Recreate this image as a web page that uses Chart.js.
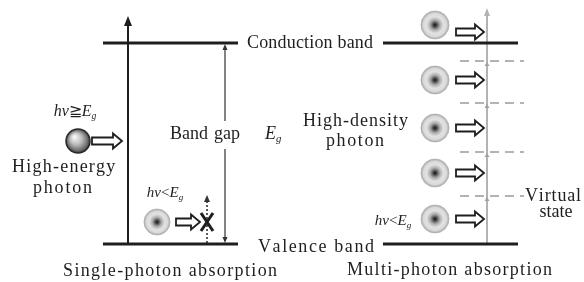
<!DOCTYPE html>
<html>
<head>
<meta charset="utf-8">
<script src="https://cdn.jsdelivr.net/npm/chart.js@4.4.0/dist/chart.umd.min.js"></script>
<style>
  html, body { margin: 0; padding: 0; background: #fff; }
  #wrap { width: 584px; height: 282px; position: relative; }
</style>
</head>
<body>
<div id="wrap"><canvas id="diagram"></canvas></div>
<script>
// energy levels (diagram units, y grows downwards)
const bandY = [43, 244];                 // conduction, valence
const singleBandX = [103, 238];
const multiBandX = [383, 518];
const virtualStateY = [61, 103, 152, 196];
const virtualStateX = [460, 524];
const multiPhotonY = [25, 80, 128, 173, 219];
const multiPhotonX = 435;
const bandGapX = 225;
const excitationX = 128;
const multiArrowX = 487;

// labels
const bandLabels = ["Conduction band", "Valence band"];
const panelTitles = ["Single-photon absorption", "Multi-photon absorption"];
const photonLabels = [["High-energy", "photon"], ["High-density", "photon"], ["Virtual", "state"]];

document.addEventListener("DOMContentLoaded", function () {
    const ctx = document.getElementById("diagram").getContext("2d");
    const SERIF = '"Liberation Serif", "Times New Roman", serif';
    const INK = "#1e1e1e";
    const FS = 18;

    function seg(x0, x1, y0, y1) {
        return [{ x: x0, y: y0 }, { x: x1, y: y1 }];
    }
    function lineSet(data, color, width, dash) {
        return {
            type: "scatter", data: data, showLine: true, borderColor: color,
            borderWidth: width, borderDash: dash || [], pointRadius: 0, spanGaps: false
        };
    }

    const datasets = [
        lineSet(seg(singleBandX[0], singleBandX[1], bandY[0], bandY[0]), INK, 3),
        lineSet(seg(singleBandX[0], singleBandX[1], bandY[1], bandY[1]), INK, 3),
        lineSet(seg(multiBandX[0], multiBandX[1], bandY[0], bandY[0]), INK, 3),
        lineSet(seg(multiBandX[0], multiBandX[1], bandY[1], bandY[1]), INK, 3),
        lineSet(seg(excitationX, excitationX, bandY[1], 24), INK, 2),
        lineSet([{ x: bandGapX, y: bandY[0] + 6 }, { x: bandGapX, y: 121 }, { x: bandGapX, y: null },
                 { x: bandGapX, y: 149 }, { x: bandGapX, y: bandY[1] - 5 }], "#333", 1.2),
        lineSet(seg(multiArrowX, multiArrowX, bandY[1], 14), "#b3b3b3", 2),
        lineSet(seg(207, 207, bandY[1] - 1, 201), "#333", 1.6, [2, 2])
    ];
    virtualStateY.forEach(function (vy) {
        datasets.push(lineSet(seg(virtualStateX[0], virtualStateX[1], vy, vy), "#b3b3b3", 2, [9, 6]));
    });

    // Photons, arrows and text are painted through the same scales
    const overlay = {
        id: "overlay",
        afterDatasetsDraw(chart) {
            const c = chart.ctx;
            const X = v => chart.scales.x.getPixelForValue(v);
            const Y = v => chart.scales.y.getPixelForValue(v);

            // dir 1 = tip points up, -1 = tip points down
            function head(x, y, dir, w, len, color) {
                c.save();
                c.fillStyle = color;
                c.beginPath();
                c.moveTo(X(x), Y(y));
                c.lineTo(X(x) - w / 2, Y(y) + dir * len);
                c.lineTo(X(x) + w / 2, Y(y) + dir * len);
                c.closePath();
                c.fill();
                c.restore();
            }

            function hollowArrow(x0, x1, y) {
                const a = X(x0), b = X(x1), m = Y(y);
                const hl = 9, sh = 3.5, hh = 7.5;
                c.save();
                c.beginPath();
                c.moveTo(a, m - sh);
                c.lineTo(b - hl, m - sh);
                c.lineTo(b - hl, m - hh);
                c.lineTo(b, m);
                c.lineTo(b - hl, m + hh);
                c.lineTo(b - hl, m + sh);
                c.lineTo(a, m + sh);
                c.closePath();
                c.fillStyle = "#fff";
                c.fill();
                c.lineWidth = 1.8;
                c.strokeStyle = INK;
                c.lineJoin = "miter";
                c.stroke();
                c.restore();
            }

            function softPhoton(x, y, r) {
                const cx = X(x), cy = Y(y);
                const g = c.createRadialGradient(cx, cy, 0, cx, cy, r);
                g.addColorStop(0, "#111");
                g.addColorStop(0.12, "#444");
                g.addColorStop(0.35, "#aaa");
                g.addColorStop(0.6, "#e2e2e2");
                g.addColorStop(0.82, "#dadada");
                g.addColorStop(1, "#a8a8a8");
                c.save();
                c.beginPath();
                c.arc(cx, cy, r, 0, Math.PI * 2);
                c.fillStyle = g;
                c.fill();
                c.lineWidth = 0.8;
                c.strokeStyle = "#b0b0b0";
                c.stroke();
                c.restore();
            }

            function sphere(x, y, r) {
                const cx = X(x), cy = Y(y);
                const g = c.createRadialGradient(cx - r * 0.3, cy - r * 0.35, 1, cx, cy, r);
                g.addColorStop(0, "#f4f4f4");
                g.addColorStop(0.45, "#bcbcbc");
                g.addColorStop(0.85, "#6a6a6a");
                g.addColorStop(1, "#333");
                c.save();
                c.beginPath();
                c.arc(cx, cy, r, 0, Math.PI * 2);
                c.fillStyle = g;
                c.fill();
                c.lineWidth = 1.5;
                c.strokeStyle = "#2a2a2a";
                c.stroke();
                c.restore();
            }

            // runs: [text, italic, sub]
            function runs(parts, x, y, align, size) {
                size = size || FS;
                c.save();
                c.fillStyle = INK;
                c.textBaseline = "middle";
                const fonts = parts.map(p => (p[1] ? "italic " : "") + (p[2] ? size * 0.6 : size) + "px " + SERIF);
                let total = 0;
                const widths = parts.map((p, i) => { c.font = fonts[i]; const w = c.measureText(p[0]).width; total += w; return w; });
                let cx = X(x);
                if (align === "center") cx -= total / 2;
                else if (align === "right") cx -= total;
                parts.forEach((p, i) => {
                    c.font = fonts[i];
                    c.textAlign = "left";
                    c.fillText(p[0], cx, Y(y) + (p[2] ? size * 0.3 : 0));
                    cx += widths[i];
                });
                c.restore();
            }

            // fit text between two x values by spreading letters
            function spread(str, x0, x1, y, size) {
                size = size || FS;
                c.save();
                c.fillStyle = INK;
                c.textBaseline = "middle";
                c.textAlign = "left";
                c.font = size + "px " + SERIF;
                const nat = c.measureText(str).width;
                const target = X(x1) - X(x0);
                const sp = Math.max(0, (target - nat) / Math.max(1, str.length - 1));
                let cx = X(x0);
                if (nat > target) cx -= (nat - target) / 2;
                for (const ch of str) {
                    c.fillText(ch, cx, Y(y));
                    cx += c.measureText(ch).width + sp;
                }
                c.restore();
            }

            // arrowheads
            head(excitationX, 16, 1, 8, 10, INK);
            head(bandGapX, bandY[0] + 1, 1, 5, 6, "#333");
            head(bandGapX, bandY[1] - 1, -1, 5, 6, "#333");
            head(multiArrowX, 8, 1, 6, 8, "#b3b3b3");
            virtualStateY.forEach(vy => head(multiArrowX, vy + 1, 1, 5, 4, "#a0a0a0"));
            head(207, 195, 1, 6, 7, "#333");

            // single-photon panel
            sphere(78, 141, 12);
            hollowArrow(92, 122, 141);
            softPhoton(157, 222, 13);
            hollowArrow(176, 200, 222);
            c.save();
            c.strokeStyle = INK;
            c.lineWidth = 3;
            c.lineCap = "butt";
            c.beginPath();
            c.moveTo(X(201), Y(213)); c.lineTo(X(213), Y(231));
            c.moveTo(X(213), Y(213)); c.lineTo(X(201), Y(231));
            c.stroke();
            c.restore();

            // multi-photon panel
            multiPhotonY.forEach(function (py, i) {
                softPhoton(multiPhotonX, py, 14);
                hollowArrow(456, 484, i === 0 ? 32 : py);
            });

            // text
            spread(bandLabels[0], 247, 373, bandY[0]);
            spread(bandLabels[1], 258, 372, bandY[1] + 3);
            spread(panelTitles[0], 63, 277, 271);
            spread(panelTitles[1], 347, 552, 270);
            runs([["Band", false]], 170, 134, "left");
            runs([["gap", false]], 214, 134, "left");
            runs([["E", true], ["g", true, true]], 265, 134, "left");
            spread(photonLabels[0][0], 12, 115, 167);
            spread(photonLabels[0][1], 33, 92, 188);
            spread(photonLabels[1][0], 303, 408, 121);
            spread(photonLabels[1][1], 326, 384, 141);
            spread(photonLabels[2][0], 525, 580, 196);
            spread(photonLabels[2][1], 542, 570, 212);
            runs([["hv", true], ["\u2267", false], ["E", true], ["g", true, true]], 75, 112, "center", 16);
            runs([["hv", true], ["<", false], ["E", true], ["g", true, true]], 165, 193, "center", 15);
            runs([["hv", true], ["<", false], ["E", true], ["g", true, true]], 393, 221, "center", 15);
        }
    };

    new Chart(ctx, {
        type: "scatter",
        data: { datasets: datasets },
        options: {
            responsive: true,
            maintainAspectRatio: false,
            animation: false,
            layout: { padding: 0 },
            plugins: { legend: { display: false }, tooltip: { enabled: false } },
            scales: {
                x: { type: "linear", min: 0, max: 584, display: false },
                y: { type: "linear", min: 0, max: 282, reverse: true, display: false }
            }
        },
        plugins: [overlay]
    });
});
</script>
</body>
</html>
